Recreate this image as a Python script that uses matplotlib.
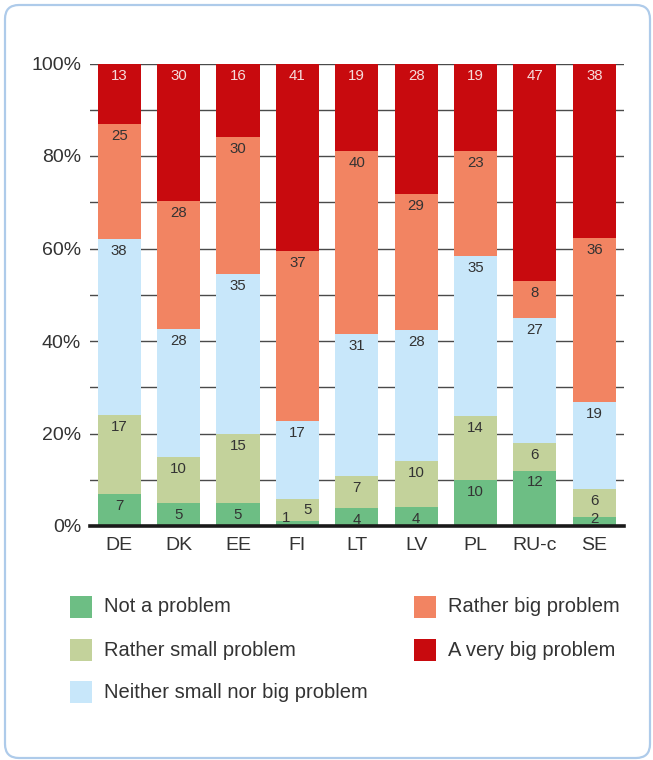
import matplotlib
matplotlib.use("Agg")
import matplotlib.pyplot as plt
from matplotlib.patches import FancyBboxPatch, Rectangle
import numpy as np

plt.rcParams['font.family'] = ['Liberation Sans', 'DejaVu Sans']

countries = ["DE", "DK", "EE", "FI", "LT", "LV", "PL", "RU-c", "SE"]
categories = ["Not a problem", "Rather small problem", "Neither small nor big problem",
              "Rather big problem", "A very big problem"]
not_a_problem = [7, 5, 5, 1, 4, 4, 10, 12, 2]
rather_small = [17, 10, 15, 5, 7, 10, 14, 6, 6]
neither = [38, 28, 35, 17, 31, 28, 35, 27, 19]
rather_big = [25, 28, 30, 37, 40, 29, 23, 8, 36]
very_big = [13, 30, 16, 41, 19, 28, 19, 47, 38]
y_ticks = [0, 20, 40, 60, 80, 100]

colors = ["#6dbe84", "#c3d29b", "#c8e7fa", "#f28462", "#c80a0e"]
label_colors = ["#333333", "#333333", "#333333", "#333333", "#f6dcdc"]

# label nudges in pixels (dx, offset below segment top) for cramped segments
nudges = {("FI", 0): (-11, -3), ("FI", 1): (10, 11), ("SE", 0): (0, 2)}

W, H = 653, 760
fig = plt.figure(figsize=(W / 100, H / 100), dpi=100)

# panel frame
bg = fig.add_axes([0, 0, 1, 1])
bg.set_xlim(0, W)
bg.set_ylim(H, 0)
bg.axis("off")
bg.add_patch(FancyBboxPatch((5, 5), 645, 753, boxstyle="round,pad=0,rounding_size=14",
                            facecolor="white", edgecolor="#aecbea", linewidth=1.6))

ax_l, ax_r, ax_top, ax_bot = 89.5, 624, 63.5, 526
ax = fig.add_axes([ax_l / W, (H - ax_bot) / H, (ax_r - ax_l) / W, (ax_bot - ax_top) / H])

series = np.array([not_a_problem, rather_small, neither, rather_big, very_big], dtype=float)
totals = series.sum(axis=0)
shares = series / totals * 100
x = np.arange(len(countries))
bottom = np.zeros(len(countries))
bar_w = 0.725
for i, cat in enumerate(categories):
    ax.bar(x, shares[i], bar_w, bottom=bottom, color=colors[i], zorder=2, label=cat)
    for j, c in enumerate(countries):
        top = bottom[j] + shares[i][j]
        dx, dy = nudges.get((c, i), (0, 12))
        ax.annotate(f"{int(series[i][j])}", (x[j], top), xytext=(dx * 0.72, -dy * 0.72),
                    textcoords="offset points", ha="center", va="center",
                    fontsize=10.8, color=label_colors[i], zorder=4)
    bottom += shares[i]

ax.set_xlim(-0.5, 8.5)
ax.set_ylim(0, 100)
ax.set_yticks(y_ticks)
ax.set_yticklabels([f"{v}%" for v in y_ticks])
ax.set_yticks(np.arange(10, 100, 20), minor=True)
ax.set_xticks(x)
ax.set_xticklabels(countries)
ax.tick_params(axis="both", which="both", length=0, labelsize=14, labelcolor="#333333")
ax.tick_params(axis="y", pad=6)
ax.tick_params(axis="x", pad=8)
ax.grid(axis="y", which="both", color="#4a4a4a", linewidth=1.0, zorder=1)
ax.set_axisbelow(True)
ax.axhline(0, color="#1a1a1a", linewidth=2.6, zorder=3, clip_on=False)
for s in ax.spines.values():
    s.set_visible(False)
ax.patch.set_alpha(0)

# legend
leg_items = [(70, 607), (70, 650), (70, 692), (414, 607), (414, 650)]
for (lx, ly), cat, col in zip(leg_items, categories, colors):
    bg.add_patch(Rectangle((lx, ly - 11), 22, 22, facecolor=col, edgecolor="none"))
    bg.text(lx + 33.5, ly, cat, ha="left", va="center", fontsize=14.5, color="#333333")

fig.savefig("out.png", dpi=100)
